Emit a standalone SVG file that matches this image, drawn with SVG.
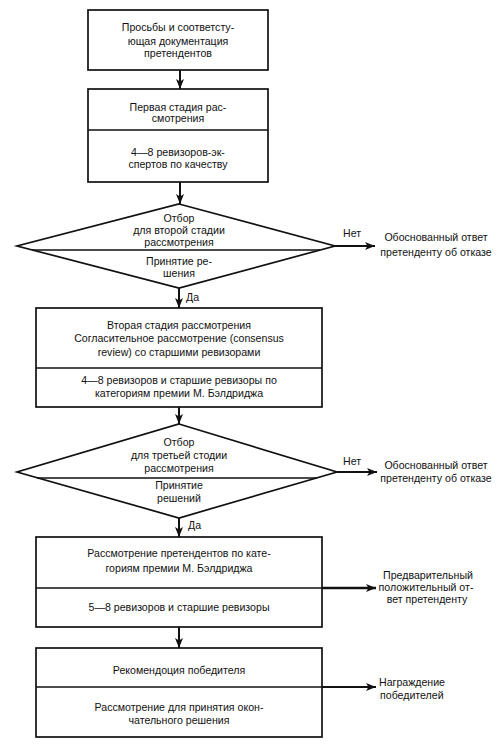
<svg xmlns="http://www.w3.org/2000/svg" width="500" height="753" viewBox="0 0 500 753">
<style>
  .bg{fill:#ffffff}
  .box{fill:#ffffff;stroke:#111;stroke-width:1.7}
  .div{stroke:#111;stroke-width:1.7;fill:none}
  .t{font-family:"Liberation Sans",Arial,sans-serif;font-size:10.6px;fill:#111;text-anchor:middle}
  .l{font-family:"Liberation Sans",Arial,sans-serif;font-size:10.6px;fill:#111;text-anchor:start}
  .c{stroke:#111;stroke-width:2;fill:none}
  .cb{stroke:#111;stroke-width:2.6;fill:none}
</style>
<defs>
  <marker id="ah" viewBox="0 0 10 8" refX="10" refY="4" markerWidth="10" markerHeight="8" markerUnits="userSpaceOnUse" orient="auto">
    <path d="M0,0 L10,4 L0,8 L2.5,4 z" fill="#111"/>
  </marker>
</defs>
<rect class="bg" x="0" y="0" width="500" height="753"/>

<g id="n1">
  <rect class="box" x="88" y="10" width="180" height="60"/>
  <text class="t" x="178" y="31">Просьбы и соответсту-</text>
  <text class="t" x="178" y="45">ющая документация</text>
  <text class="t" x="178" y="57">претендентов</text>
</g>

<g id="n2">
  <rect class="box" x="88" y="89" width="180" height="93"/>
  <line class="div" x1="88" y1="130" x2="268" y2="130"/>
  <text class="t" x="178" y="111">Первая стадия рас-</text>
  <text class="t" x="178" y="122">смотрения</text>
  <text class="t" x="178" y="156">4—8 ревизоров-эк-</text>
  <text class="t" x="178" y="168">спертов по качеству</text>
</g>

<g id="d1">
  <polygon class="box" points="179,204 335,246 179,288 17,246"/>
  <line class="div" x1="32" y1="250" x2="320" y2="250"/>
  <text class="t" x="179" y="222">Отбор</text>
  <text class="t" x="179" y="234">для второй стадии</text>
  <text class="t" x="179" y="246">рассмотрения</text>
  <text class="t" x="179" y="265">Принятие ре-</text>
  <text class="t" x="179" y="277">шения</text>
</g>

<g id="r1">
  <text class="t" x="436" y="241">Обоснованный ответ</text>
  <text class="t" x="436" y="256">претенденту об отказе</text>
</g>

<g id="n3">
  <rect class="box" x="36" y="308" width="286" height="99"/>
  <line class="div" x1="36" y1="368" x2="322" y2="368"/>
  <text class="t" x="179" y="329">Вторая стадия рассмотрения</text>
  <text class="t" x="179" y="342">Согласительное рассмотрение (consensus</text>
  <text class="t" x="179" y="356">review) со старшими ревизорами</text>
  <text class="t" x="179" y="384">4—8 ревизоров и старшие ревизоры по</text>
  <text class="t" x="179" y="397">категориям премии М. Бэлдриджа</text>
</g>

<g id="d2">
  <polygon class="box" points="179,424 337,472 179,518 17,472"/>
  <line class="div" x1="37" y1="478" x2="317" y2="478"/>
  <text class="t" x="179" y="446">Отбор</text>
  <text class="t" x="179" y="459">для третьей стодии</text>
  <text class="t" x="179" y="472">рассмотрения</text>
  <text class="t" x="179" y="489">Принятие</text>
  <text class="t" x="179" y="502">решений</text>
</g>

<g id="r2">
  <text class="t" x="436" y="469">Обоснованный ответ</text>
  <text class="t" x="436" y="482">претенденту об отказе</text>
</g>

<g id="n4">
  <rect class="box" x="36" y="537" width="286" height="90"/>
  <line class="div" x1="36" y1="588" x2="322" y2="588"/>
  <text class="t" x="179" y="557">Рассмотрение претендентов по кате-</text>
  <text class="t" x="179" y="572">гориям премии М. Бэлдриджа</text>
  <text class="t" x="179" y="611">5—8 ревизоров и старшие ревизоры</text>
</g>

<g id="r3">
  <text class="t" x="428" y="579">Предварительный</text>
  <text class="t" x="426" y="591">положительный от-</text>
  <text class="t" x="427" y="603">вет претенденту</text>
</g>

<g id="n5">
  <rect class="box" x="36" y="648" width="286" height="89"/>
  <line class="div" x1="36" y1="687" x2="322" y2="687"/>
  <text class="t" x="179" y="674">Рекомендоция победителя</text>
  <text class="t" x="179" y="711">Рассмотрение для принятия окон-</text>
  <text class="t" x="179" y="724">чательного решения</text>
</g>

<g id="r4">
  <text class="l" x="379" y="686">Награждение</text>
  <text class="l" x="380" y="699">победителей</text>
</g>

<g id="connectors">
  <line class="c" x1="180" y1="70" x2="180" y2="89" marker-end="url(#ah)"/>
  <line class="c" x1="180" y1="182" x2="180" y2="204" marker-end="url(#ah)"/>
  <line class="c" x1="179" y1="288" x2="179" y2="308" marker-end="url(#ah)"/>
  <line class="c" x1="179" y1="407" x2="179" y2="424" marker-end="url(#ah)"/>
  <line class="c" x1="179" y1="518" x2="179" y2="537" marker-end="url(#ah)"/>
  <line class="c" x1="179" y1="627" x2="179" y2="648" marker-end="url(#ah)"/>
  <line class="c" x1="333" y1="246" x2="375" y2="246" marker-end="url(#ah)"/>
  <line class="c" x1="335" y1="472" x2="377" y2="472" marker-end="url(#ah)"/>
  <line class="cb" x1="322" y1="588" x2="376" y2="588" marker-end="url(#ah)"/>
  <line class="c" x1="322" y1="687" x2="376" y2="687" marker-end="url(#ah)"/>
  <text class="l" x="343" y="237">Нет</text>
  <text class="l" x="343" y="465">Нет</text>
  <text class="l" x="186" y="301">Да</text>
  <text class="l" x="188" y="529">Да</text>
</g>
</svg>
